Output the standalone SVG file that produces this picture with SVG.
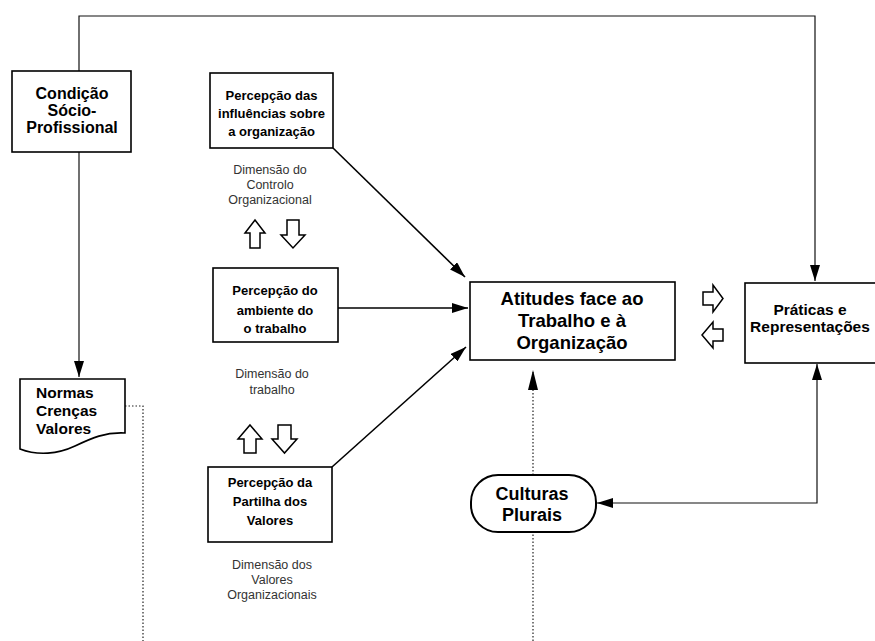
<svg xmlns="http://www.w3.org/2000/svg" width="875" height="641" viewBox="0 0 875 641">
  <defs>
    <marker id="arrow" viewBox="0 0 16 10" refX="16" refY="5" markerWidth="16" markerHeight="10" markerUnits="userSpaceOnUse" orient="auto-start-reverse">
      <path d="M0,0 L16,5 L0,10 Z" fill="#000"/>
    </marker>
    <marker id="arrowSmall" viewBox="0 0 20 10" refX="20" refY="5" markerWidth="20" markerHeight="10" markerUnits="userSpaceOnUse" orient="auto-start-reverse">
      <path d="M0,0 L20,5 L0,10 Z" fill="#000"/>
    </marker>
    <style>
      .box { fill: #fff; stroke: #000; stroke-width: 1.6; }
      .lbl { font-family: "Liberation Sans", Arial, sans-serif; font-weight: bold; fill: #000; text-anchor: middle; }
      .left { text-anchor: start; }
      .dim { font-family: "Liberation Sans", Arial, sans-serif; font-size: 12.5px; fill: #333; text-anchor: middle; }
      .link { fill: none; stroke: #000; stroke-width: 1.6; }
      .thin { fill: none; stroke: #111; stroke-width: 1.2; }
      .dots { fill: none; stroke: #222; stroke-width: 1.2; stroke-dasharray: 1.5 2; }
      .block { fill: #fff; stroke: #000; stroke-width: 1.5; stroke-linejoin: miter; }
    </style>
  </defs>

  <!-- connectors -->
  <g id="connectors">
    <!-- Condição -> Práticas over the top -->
    <path class="thin" d="M79,71 V16 H815 V281" marker-end="url(#arrow)"/>
    <!-- Condição -> Normas -->
    <path class="thin" d="M79,152 V377" marker-end="url(#arrow)"/>
    <!-- perception boxes -> Atitudes -->
    <path class="link" d="M333,148 L465,277" marker-end="url(#arrow)"/>
    <path class="link" d="M338,308 L468,308" marker-end="url(#arrow)"/>
    <path class="link" d="M332,467 L466,347" marker-end="url(#arrow)"/>
    <!-- Culturas <-> Práticas -->
    <path class="thin" d="M597,503 H817 V364" marker-start="url(#arrow)" marker-end="url(#arrow)"/>
    <!-- dotted influence lines -->
    <path class="dots" d="M533,641 V532"/>
    <path class="dots" d="M533,475 V370" marker-end="url(#arrowSmall)"/>
    <path class="dots" d="M125,406 H143 V641"/>
    <!-- hollow block arrows -->
    <path class="block" d="M255,220 L265,233 L260,233 L260,248 L250,248 L250,233 L245,233 Z"/>
    <path class="block" d="M287,220 L299,220 L299,235 L305,235 L293,248 L281,235 L287,235 Z"/>
    <path class="block" d="M250,425 L262,439 L256,439 L256,453 L244,453 L244,439 L238,439 Z"/>
    <path class="block" d="M278,425 L291,425 L291,439 L297,439 L284.5,453 L272,439 L278,439 Z"/>
    <path class="block" d="M703,292 L713,292 L713,285 L723,298.5 L713,312 L713,305 L703,305 Z"/>
    <path class="block" d="M702,335 L713,322 L713,329 L723,329 L723,341 L713,341 L713,348 Z"/>
  </g>

  <g id="condicao">
    <rect class="box" x="12" y="71" width="119" height="81"/>
    <text class="lbl" font-size="16" x="72" y="99">Condição</text>
    <text class="lbl" font-size="16" x="72" y="116">Sócio-</text>
    <text class="lbl" font-size="16" x="72" y="133">Profissional</text>
  </g>

  <g id="normas">
    <path class="box" d="M20,379 H125 V433 C105,432 92,438 75,446 C58,454 38,456 20,449 Z"/>
    <text class="lbl left" font-size="15.5" x="36" y="398">Normas</text>
    <text class="lbl left" font-size="15.5" x="36" y="416">Crenças</text>
    <text class="lbl left" font-size="15.5" x="36" y="434">Valores</text>
  </g>

  <g id="percepcao-influencias">
    <rect class="box" x="210" y="73" width="123" height="75"/>
    <text class="lbl" font-size="13" x="271.5" y="100">Percepção das</text>
    <text class="lbl" font-size="13" x="271.5" y="118">influências sobre</text>
    <text class="lbl" font-size="13" x="271.5" y="136">a organização</text>
    <text class="dim" x="270" y="174">Dimensão do</text>
    <text class="dim" x="270" y="189">Controlo</text>
    <text class="dim" x="270" y="204">Organizacional</text>
  </g>

  <g id="percepcao-ambiente">
    <rect class="box" x="213" y="268" width="125" height="74"/>
    <text class="lbl" font-size="13" x="275" y="295">Percepção do</text>
    <text class="lbl" font-size="13" x="275" y="315">ambiente do</text>
    <text class="lbl" font-size="13" x="275" y="333">o trabalho</text>
    <text class="dim" x="272" y="378">Dimensão do</text>
    <text class="dim" x="272" y="394">trabalho</text>
  </g>

  <g id="percepcao-partilha">
    <rect class="box" x="208" y="467" width="124" height="75"/>
    <text class="lbl" font-size="13" x="270" y="487">Percepção da</text>
    <text class="lbl" font-size="13" x="270" y="506">Partilha dos</text>
    <text class="lbl" font-size="13" x="270" y="525">Valores</text>
    <text class="dim" x="272" y="569">Dimensão dos</text>
    <text class="dim" x="272" y="584">Valores</text>
    <text class="dim" x="272" y="599">Organizacionais</text>
  </g>

  <g id="atitudes">
    <rect class="box" x="470" y="282" width="205" height="78"/>
    <text class="lbl" font-size="18.5" x="572" y="305">Atitudes face ao</text>
    <text class="lbl" font-size="18.5" x="572" y="327">Trabalho e à</text>
    <text class="lbl" font-size="18.5" x="572" y="349">Organização</text>
  </g>

  <g id="praticas">
    <rect class="box" x="745" y="283" width="131" height="80"/>
    <text class="lbl" font-size="15.5" x="810" y="315">Práticas e</text>
    <text class="lbl" font-size="15.5" x="810" y="332">Representações</text>
  </g>

  <g id="culturas">
    <rect class="box" x="471" y="475" width="125" height="57" rx="27" ry="27" style="stroke-width:2"/>
    <text class="lbl" font-size="18" x="532" y="500">Culturas</text>
    <text class="lbl" font-size="18" x="532" y="521">Plurais</text>
  </g>
</svg>
